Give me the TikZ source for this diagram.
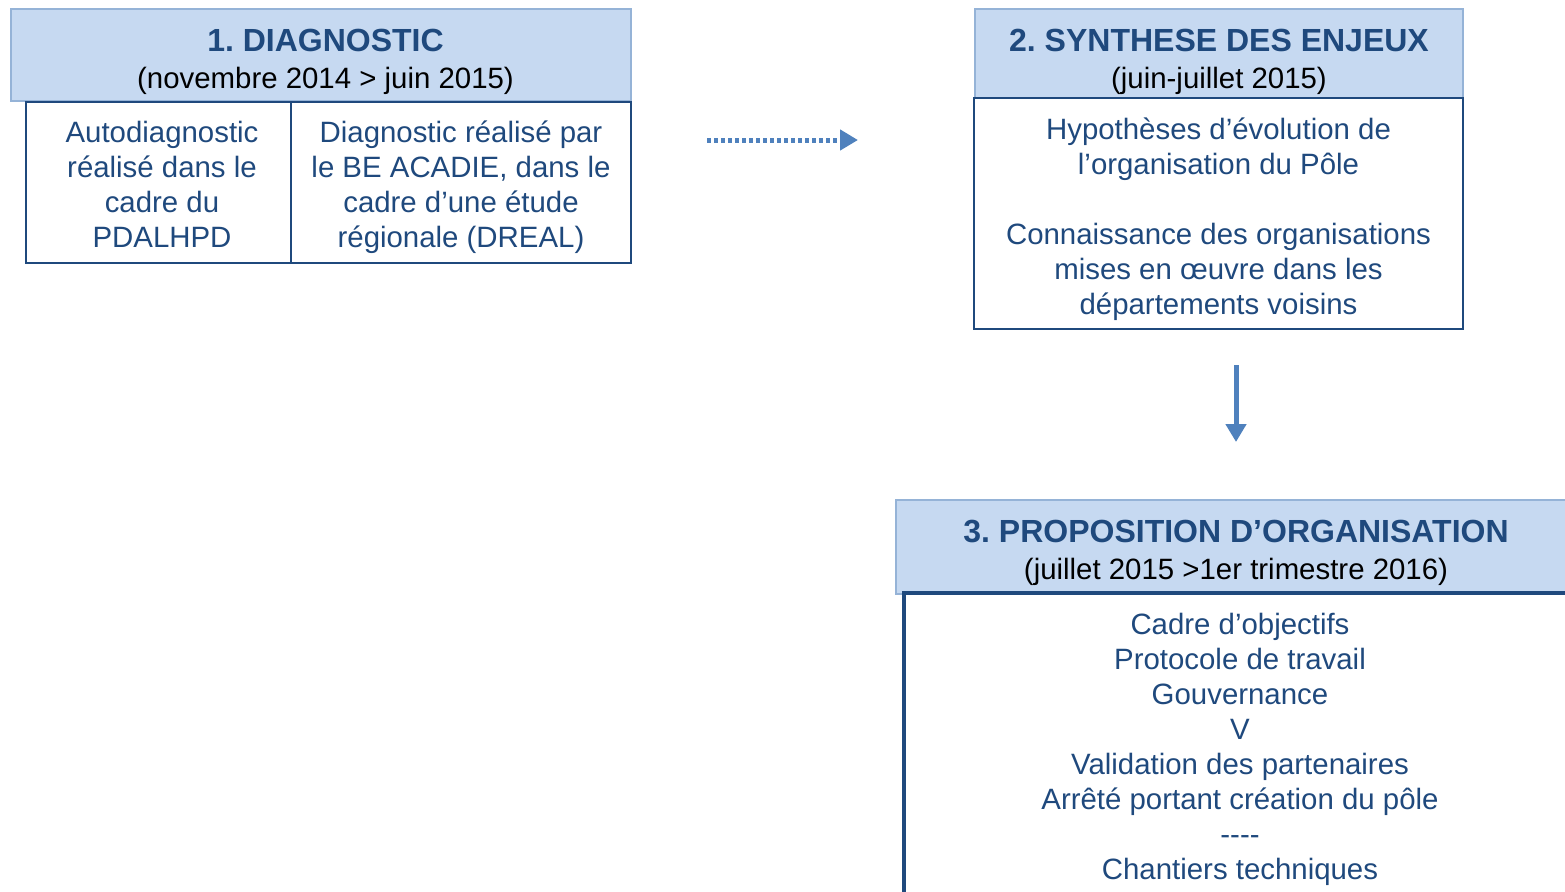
\documentclass[tikz,border=0pt]{standalone}
\usepackage{fontspec}
\setmainfont{Liberation Sans}
\usetikzlibrary{arrows.meta}
\definecolor{hdrfill}{HTML}{C6D9F1}
\definecolor{hdrline}{HTML}{95B3D7}
\definecolor{navy}{HTML}{1F497D}
\definecolor{arrowblue}{HTML}{4F81BD}
\frenchspacing
\begin{document}
\begin{tikzpicture}[x=0.5pt,y=-0.5pt,
  hdr/.style={draw=hdrline, line width=0.75pt, fill=hdrfill, inner sep=0pt},
  cell/.style={draw=navy, line width=1pt, inner sep=0pt},
  hdrtext/.style={inner sep=0pt, align=center, font=\fontsize{14.7}{18.5}\selectfont},
  bodytext/.style={inner sep=0pt, align=center, text=navy, font=\fontsize{14.7}{17.5}\selectfont},
  flow/.style={draw=arrowblue, -{Triangle[length=9pt,width=10pt]}}
]
\newcommand{\ttlfont}{\color{navy}\fontsize{16}{18.5}\selectfont\bfseries}
\useasboundingbox (0,0) rectangle (1565,891);

% Box 1
\node[hdr, minimum width=310pt, minimum height=46pt] (h1) at (321,55) {};
\node[hdrtext] (t1) at (325.5,61.5)
  {{\ttlfont 1. DIAGNOSTIC}\\(novembre 2014 > juin 2015)};
\node[cell, minimum width=132.5pt, minimum height=80.5pt] (c1a) at (158.5,182.5) {};
\node[bodytext] (t1a) at (162,184.5)
  {Autodiagnostic\\réalisé dans le\\cadre du\\PDALHPD};
\node[cell, minimum width=170pt, minimum height=80.5pt] (c1b) at (461,182.5) {};
\node[bodytext] (t1b) at (461,187.5)
  {Diagnostic réalisé par\\le BE ACADIE, dans le\\cadre d’une étude\\régionale (DREAL)};

% Box 2
\node[hdr, minimum width=244pt, minimum height=44.5pt] (h2) at (1219,53.5) {};
\node[hdrtext] (t2) at (1219,61.5)
  {{\ttlfont 2. SYNTHESE DES ENJEUX}\\(juin-juillet 2015)};
\node[cell, minimum width=244.5pt, minimum height=115.5pt] (b2) at (1218.5,213.5) {};
\node[bodytext] (t2b) at (1218.5,219)
  {Hypothèses d’évolution de\\l’organisation du Pôle\\\mbox{}\\Connaissance des organisations\\mises en œuvre dans les\\départements voisins};

% Box 3
\node[hdr, minimum width=340pt, minimum height=47pt] (h3) at (1236,547) {};
\node[hdrtext] (t3) at (1236,552.5)
  {{\ttlfont 3. PROPOSITION D’ORGANISATION}\\(juillet 2015 >1er trimestre 2016)};
\node[cell, draw=none, minimum width=336pt, minimum height=153pt] (b3) at (1240.5,747) {};
\draw[navy, line width=2pt] (b3.south west) -- (b3.north west) -- (b3.north east);
\node[bodytext] (t3b) at (1240,749.5)
  {Cadre d’objectifs\\Protocole de travail\\Gouvernance\\V\\Validation des partenaires\\Arrêté portant création du pôle\\-{}-{}-{}-\\Chantiers techniques};

% Connectors
\coordinate (a1s) at (707,140);
\coordinate (a1e) at (858,140);
\draw[flow, line width=2.5pt, dash pattern=on 2pt off 1.5pt] (a1s) -- (a1e);
\coordinate (a2s) at (1236,365);
\coordinate (a2e) at (1236,442);
\draw[flow, line width=2.5pt] (a2s) -- (a2e);
\end{tikzpicture}
\end{document}
